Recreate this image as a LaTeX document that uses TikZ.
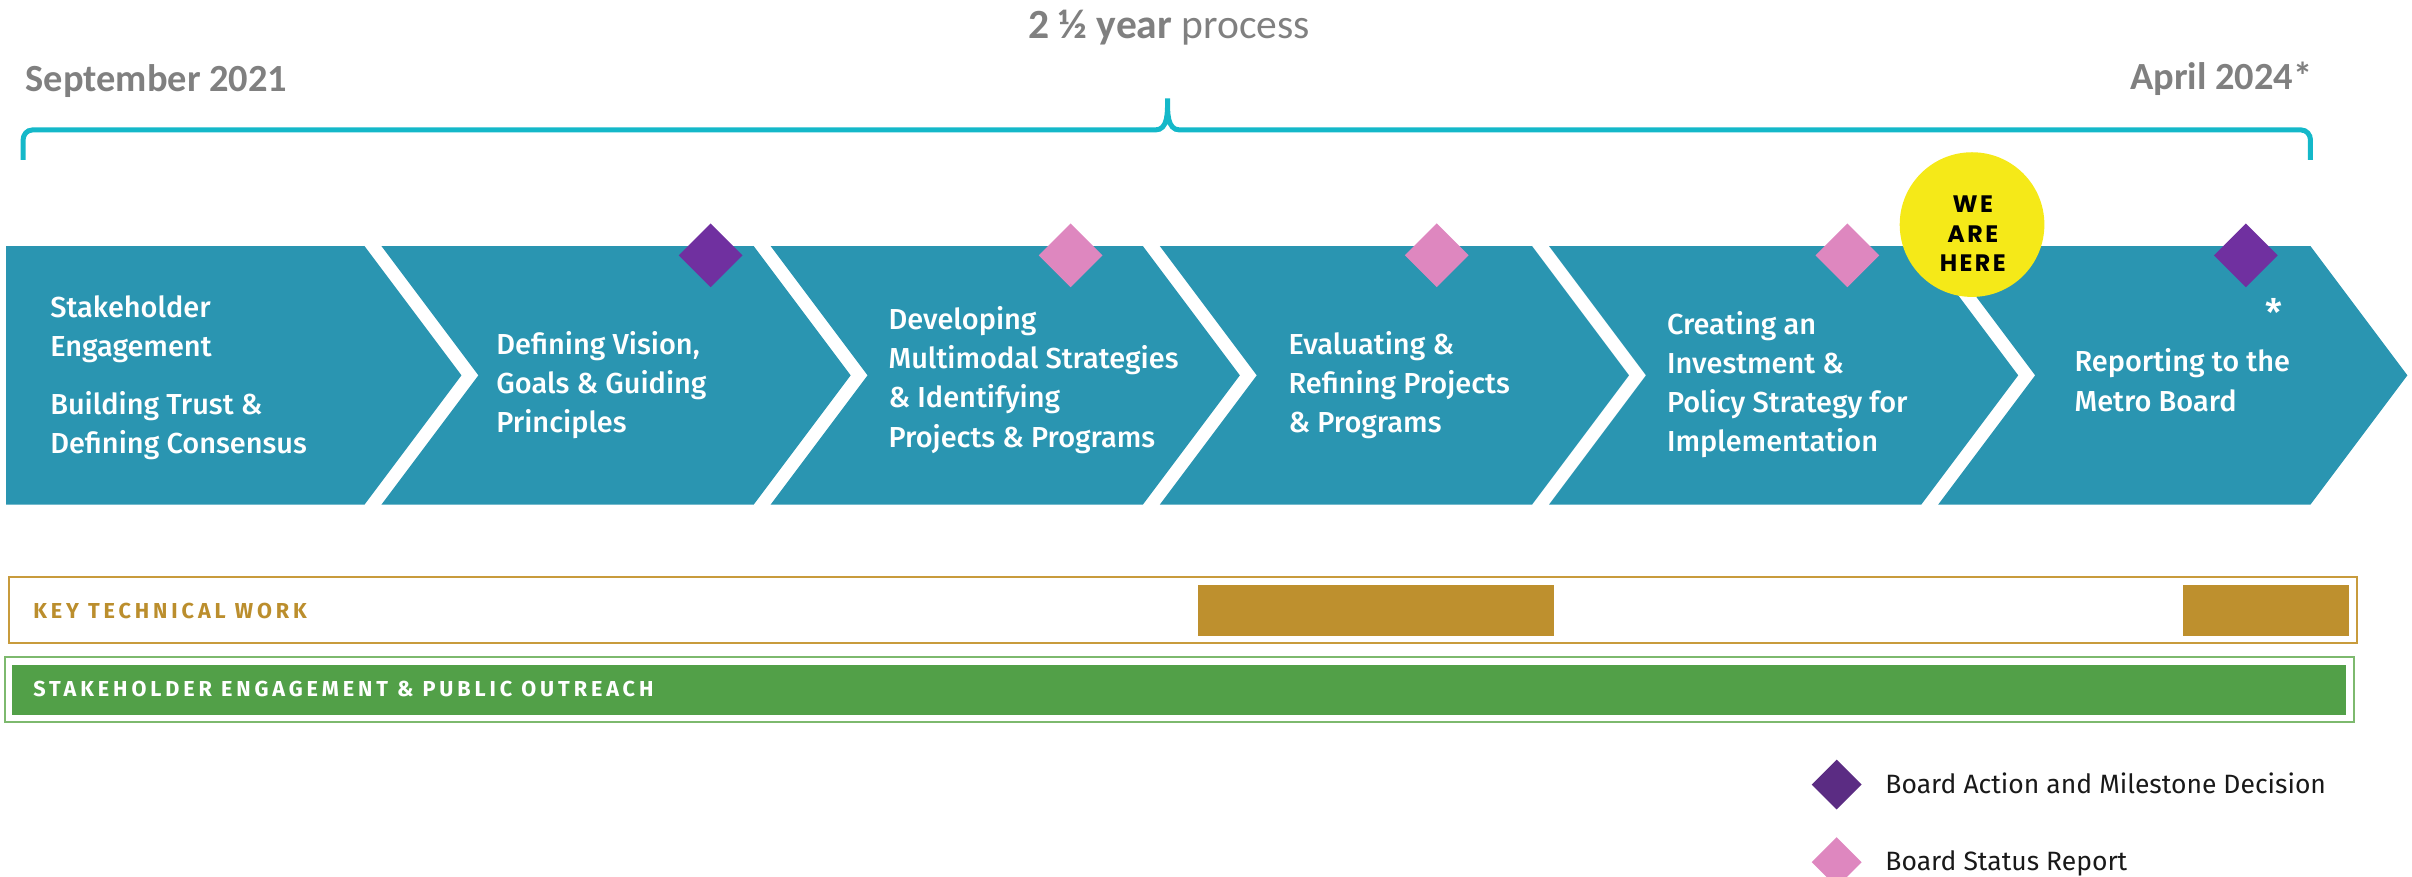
\documentclass[tikz,border=0pt]{standalone}
\usepackage{fontspec}
\setmainfont{Fira Sans}
\newfontfamily\stagefont{Fira Sans Medium}
\newfontfamily\headfont{Carlito}
\newfontfamily\herefont{Poppins}
\newfontfamily\barfont{Fira Sans}[LetterSpace=18]
\usepackage{tikz}
\usetikzlibrary{shapes, calc}

\begin{document}
\begin{tikzpicture}[x=0.01cm,y=-0.01cm,
	stagetext/.style={anchor=north west,inner sep=0,align=left,text=white,font=\stagefont\fontsize{5.35pt}{7.25pt}\selectfont},
	milestone/.style={diamond,aspect=1,inner sep=0,minimum size=0.42cm,fill=boardpurple},
	statusrep/.style={diamond,aspect=1,inner sep=0,minimum size=0.42cm,fill=boardpink},
	barlabel/.style={anchor=base west,inner sep=0,font=\barfont\bfseries\fontsize{4pt}{4.5pt}\selectfont}]
	\definecolor{chev}{RGB}{42,149,177}
	\definecolor{bracecol}{RGB}{20,184,201}
	\definecolor{headgray}{RGB}{128,128,128}
	\definecolor{boardpurple}{RGB}{112,48,160}
	\definecolor{legpurple}{RGB}{91,44,131}
	\definecolor{boardpink}{RGB}{222,135,191}
	\definecolor{herey}{RGB}{245,233,24}
	\definecolor{goldtext}{RGB}{187,142,45}
	\definecolor{goldfill}{RGB}{190,144,46}
	\definecolor{goldline}{RGB}{200,155,60}
	\definecolor{greenfill}{RGB}{82,160,72}
	\definecolor{greenline}{RGB}{125,185,110}
	\useasboundingbox (0,0) rectangle (1568,570);
	\node (title) at (760,25) [anchor=base,inner sep=0,text=headgray,font=\headfont\fontsize{7.68pt}{8pt}\selectfont]{\textbf{2 ½ year} process};
	\node (start) at (16,59.6) [anchor=base west,inner sep=0,text=headgray,font=\headfont\bfseries\fontsize{7.1pt}{8pt}\selectfont]{September 2021};
	\node (end) at (1504,58.5) [anchor=base east,inner sep=0,text=headgray,font=\headfont\bfseries\fontsize{7.1pt}{8pt}\selectfont]{April 2024*};
	\draw[bracecol,line width=0.0325cm] (15,104) -- (15,91) to[out=90,in=180] (21,84.5) -- (751,84.5) to[out=0,in=-90] (759,64) to[out=-90,in=180] (767,84.5) -- (1496,84.5) to[out=0,in=90] (1502,91) -- (1502,104);
	\fill[chev] (4,160) -- (237,160) -- (300,244) -- (237,328) -- (4,328) -- cycle;
	\fill[chev] (248,160) -- (490,160) -- (553,244) -- (490,328) -- (248,328) -- (311,244) -- cycle;
	\fill[chev] (501,160) -- (743,160) -- (806,244) -- (743,328) -- (501,328) -- (564,244) -- cycle;
	\fill[chev] (754,160) -- (996,160) -- (1059,244) -- (996,328) -- (754,328) -- (817,244) -- cycle;
	\fill[chev] (1007,160) -- (1249,160) -- (1312,244) -- (1249,328) -- (1007,328) -- (1070,244) -- cycle;
	\fill[chev] (1260,160) -- (1502,160) -- (1565,244) -- (1502,328) -- (1260,328) -- (1323,244) -- cycle;
	\node (st1) at (32,191.5) [stagetext]{Stakeholder\\Engagement\\[3.4pt]Building Trust \&\\Defining Consensus};
	\node (st2) at (322,214.5) [stagetext]{Defining Vision,\\Goals \& Guiding\\Principles};
	\node (st3) at (577,198.5) [stagetext]{Developing\\Multimodal Strategies\\\& Identifying\\Projects \& Programs};
	\node (st4) at (837,214.5) [stagetext]{Evaluating \&\\Refining Projects\\\& Programs};
	\node (st5) at (1083,201.5) [stagetext]{Creating an\\Investment \&\\Policy Strategy for\\Implementation};
	\node (st6) at (1348,226) [stagetext]{Reporting to the\\Metro Board};
	\node (ast) at (1478,203) [inner sep=0,text=white,font=\stagefont\fontsize{7pt}{7pt}\selectfont]{*};
	\node (d1) at (462,166) [milestone]{};
	\node (d2) at (696,166) [statusrep]{};
	\node (d3) at (934,166) [statusrep]{};
	\node (d4) at (1201,166) [statusrep]{};
	\node (d5) at (1460,166) [milestone]{};
	\node (here) at (1282,146) [circle,fill=herey,minimum size=0.94cm,inner sep=0]{};
	\node (heretxt) at (1282.5,152) [inner sep=0,align=center,font=\herefont\bfseries\fontsize{4.4pt}{5.4pt}\selectfont]{\addfontfeature{LetterSpace=10}WE\\\addfontfeature{LetterSpace=10}ARE\\\addfontfeature{LetterSpace=10}HERE};
	\draw[goldline,line width=0.013cm] (6,375) rectangle (1532,418);
	\fill[goldfill] (779,380) rectangle (1010,413.5);
	\fill[goldfill] (1419,380) rectangle (1527,413.5);
	\node (ktw) at (21,402) [barlabel,text=goldtext]{KEY TECHNICAL WORK};
	\draw[greenline,line width=0.013cm] (3,427) rectangle (1530,469.5);
	\fill[greenfill] (7.5,432) rectangle (1525,465);
	\node (seo) at (21,453) [barlabel,text=white]{STAKEHOLDER ENGAGEMENT \& PUBLIC OUTREACH};
	\node (lg1) at (1194,510) [milestone,minimum size=0.33cm,fill=legpurple]{};
	\node (lg2) at (1194,560.5) [statusrep,minimum size=0.33cm]{};
	\node (lgt1) at (1225,515.6) [anchor=base west,inner sep=0,text=black!90,font=\fontsize{4.9pt}{5pt}\selectfont]{Board Action and Milestone Decision};
	\node (lgt2) at (1225,565.7) [anchor=base west,inner sep=0,text=black!90,font=\fontsize{4.9pt}{5pt}\selectfont]{Board Status Report};
\end{tikzpicture}
\end{document}
